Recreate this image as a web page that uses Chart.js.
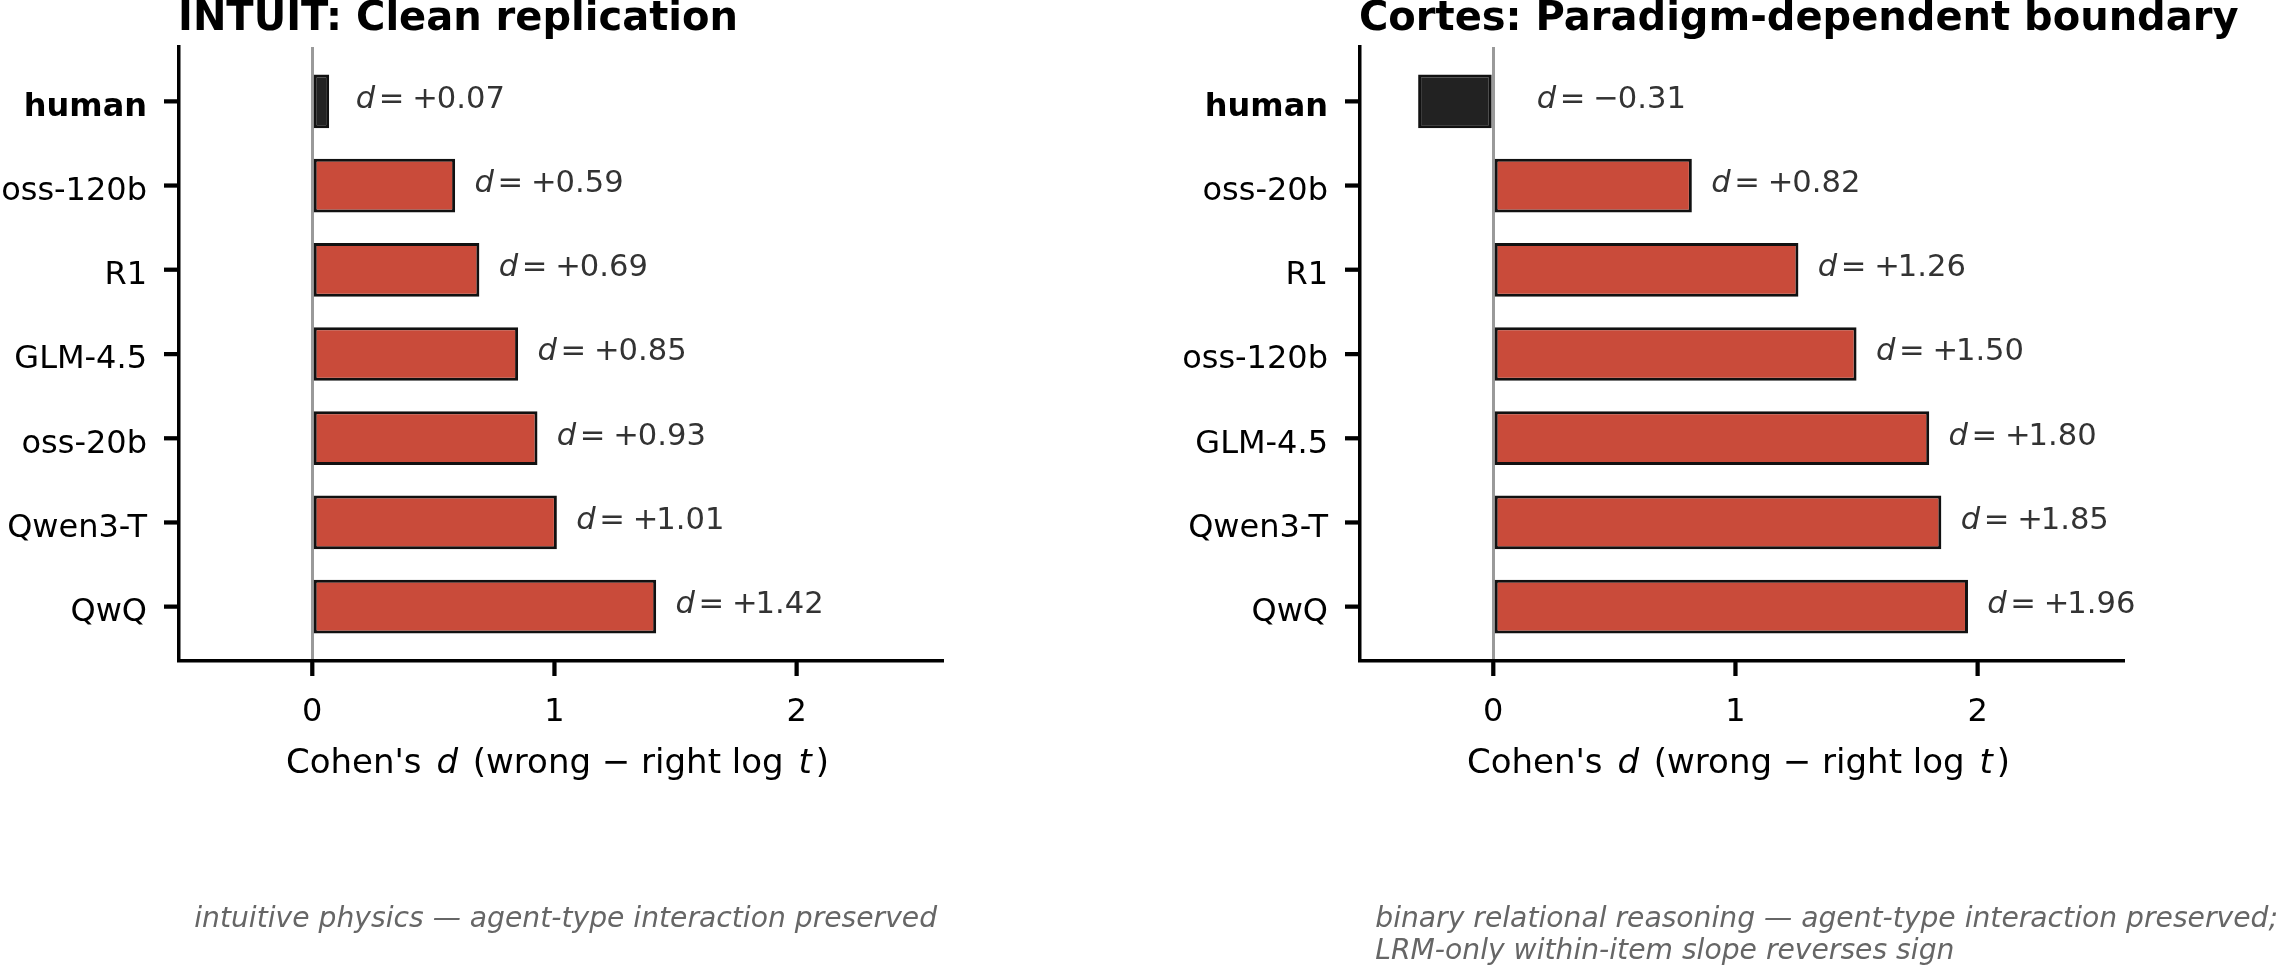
<!DOCTYPE html>
<html><head><meta charset="utf-8">
<script src="https://cdn.jsdelivr.net/npm/chart.js@4.4.1/dist/chart.umd.min.js"></script>
<style>
html,body{margin:0;padding:0;background:#fff;width:2280px;height:968px;overflow:hidden}
.wrap{position:absolute;top:0;width:1140px;height:968px}
canvas{display:block}
</style></head><body>
<div class="wrap" style="left:0"><canvas id="c1" width="1140" height="968"></canvas></div>
<div class="wrap" style="left:1140px"><canvas id="c2" width="1140" height="968"></canvas></div>
<script>
// ---- data ----
const intuitLabels = ['human', 'oss-120b', 'R1', 'GLM-4.5', 'oss-20b', 'Qwen3-T', 'QwQ'];
const intuitValues = [0.07, 0.59, 0.69, 0.85, 0.93, 1.01, 1.42];
const cortesLabels = ['human', 'oss-20b', 'R1', 'oss-120b', 'GLM-4.5', 'Qwen3-T', 'QwQ'];
const cortesValues = [-0.31, 0.82, 1.26, 1.50, 1.80, 1.85, 1.96];
const xTickValues = [0, 1, 2];
const intuitTitle = 'INTUIT: Clean replication';
const cortesTitle = 'Cortes: Paradigm-dependent boundary';
const intuitNote = ['intuitive physics — agent-type interaction preserved'];
const cortesNote = ['binary relational reasoning — agent-type interaction preserved;', 'LRM-only within-item slope reverses sign'];
const xLabelParts = [["Cohen's ", false], ['d', true], [' (wrong − right log ', false], ['t', true], [')', false]];

const FONT = "'DejaVu Sans', sans-serif";
const RED = '#C94B3A';
const DARK = '#222222';

function makeChart(id, labels, values, title, note, areaLeft, areaRight) {
  const W = 1140, H = 968, TOP = 47, BOTTOM = 661, TICK = 15, TW = 4;
  const VFS = 30.6;
  // draw text so that its ink starts at inkX
  function inkText(c, txt, inkX, y) {
    const m = c.measureText(txt);
    c.fillText(txt, inkX + m.actualBoundingBoxLeft, y);
  }
  const textPlugin = {
    id: 'texts_' + id,
    afterDatasetsDraw(chart) {
      const c = chart.ctx, xs = chart.scales.x, ys = chart.scales.y;
      c.save();
      c.textAlign = 'left';
      c.textBaseline = 'alphabetic';
      c.fillStyle = '#333333';
      values.forEach((d, i) => {
        const x = xs.getPixelForValue(Math.max(d + 0.08, 0.18)) + 1;
        const y = ys.getPixelForValue(i) + 6.3;
        c.font = 'italic ' + VFS + 'px ' + FONT;
        inkText(c, 'd', x, y);
        c.font = VFS + 'px ' + FONT;
        inkText(c, '=', x + 25, y);
        inkText(c, d < 0 ? '\u2212' : '+', x + 58.5, y);
        inkText(c, Math.abs(d).toFixed(2), x + 82, y);
      });
      c.restore();
    },
    afterDraw(chart) {
      const c = chart.ctx, a = chart.chartArea, xs = chart.scales.x, ys = chart.scales.y;
      c.save();
      // outward tick marks
      c.fillStyle = '#000000';
      for (let i = 0; i < labels.length; i++) {
        const y = ys.getPixelForValue(i);
        c.fillRect(a.left - TICK, y - TW / 2, TICK, TW);
      }
      for (const v of xTickValues) {
        const x = xs.getPixelForValue(v);
        c.fillRect(x - TW / 2, a.bottom, TW, TICK);
      }

      c.textBaseline = 'alphabetic';
      c.textAlign = 'left';
      // title
      c.fillStyle = '#000';
      c.font = 'bold 40px ' + FONT;
      c.fillText(title, a.left - 1, 29.5);
      // x label with italic parts
      const GAP = 4;
      let total = 0;
      const widths = xLabelParts.map(([t, it]) => {
        c.font = (it ? 'italic ' : '') + '34px ' + FONT;
        const w = c.measureText(t).width + (it ? 2 * GAP : 0); total += w; return w;
      });
      let x = (a.left + a.right) / 2 - 3 - total / 2;
      xLabelParts.forEach(([t, it], k) => {
        c.font = (it ? 'italic ' : '') + '34px ' + FONT;
        c.fillText(t, x + (it ? GAP : 0), 773);
        x += widths[k];
      });
      // footnote
      c.fillStyle = '#666666';
      c.font = 'italic 28.2px ' + FONT;
      const nx = a.left + 0.02 * (a.right - a.left);
      note.forEach((line, k) => c.fillText(line, nx, 927 + k * 32));
      c.restore();
    }
  };

  return new Chart(document.getElementById(id), {
    type: 'bar',
    data: {
      datasets: [{
        data: values.map((v, i) => ({ x: v, y: i })),
        backgroundColor: labels.map(l => l === 'human' ? DARK : RED),
        borderColor: '#111111',
        borderWidth: 3,
        borderSkipped: false,
        barPercentage: 0.638,
        categoryPercentage: 1
      }]
    },
    options: {
      indexAxis: 'y',
      responsive: false,
      animation: false,
      devicePixelRatio: 1,
      layout: { padding: { left: 0, top: TOP, right: W - areaRight, bottom: 0 } },
      plugins: { legend: { display: false }, tooltip: { enabled: false }, title: { display: false } },
      scales: {
        x: {
          type: 'linear', position: 'bottom', min: -0.55, max: 2.6, bounds: 'data', offset: false,
          afterBuildTicks: s => { s.ticks = xTickValues.map(v => ({ value: v })); },
          afterFit: s => { s.height = H - BOTTOM; },
          grid: {
            offset: false,
            drawOnChartArea: true,
            color: c => (c.tick && c.tick.value === 0) ? '#9a9a9a' : 'rgba(0,0,0,0)',
            lineWidth: 3, drawTicks: true, tickLength: TICK, tickColor: '#000', tickWidth: 3.5
          },
          border: { display: true, color: '#000', width: 3.5 },
          ticks: { font: { family: FONT, size: 32 }, color: '#000', padding: 17, maxRotation: 0, callback: v => String(v) }
        },
        y: {
          type: 'linear', reverse: true, min: -0.645, max: 6.645, bounds: 'data', offset: false,
          afterBuildTicks: s => { s.ticks = labels.map((_, i) => ({ value: i })); },
          afterFit: s => { s.width = areaLeft; },
          grid: { offset: false, drawOnChartArea: false, drawTicks: true, tickLength: TICK, tickColor: '#000', tickWidth: 3.5 },
          border: { display: true, color: '#000', width: 3.5 },
          ticks: {
            font: c => ({ family: FONT, size: 32, weight: (c.tick && c.tick.value === 0) ? 'bold' : 'normal' }),
            color: '#000', padding: 17, labelOffset: 6,
            callback: v => labels[v]
          }
        }
      }
    },
    plugins: [textPlugin]
  });
}

makeChart('c1', intuitLabels, intuitValues, intuitTitle, intuitNote, 179, 942);
makeChart('c2', cortesLabels, cortesValues, cortesTitle, cortesNote, 220, 983);
</script>
</body></html>
